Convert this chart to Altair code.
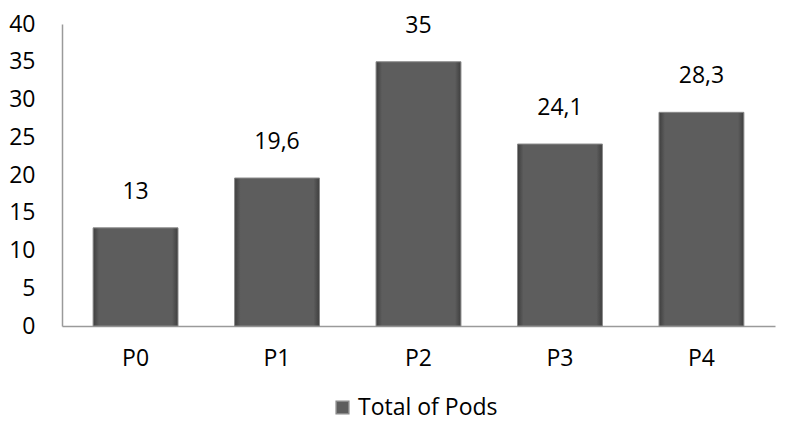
import altair as alt
import pandas as pd

categories = ["P0", "P1", "P2", "P3", "P4"]
values = [13, 19.6, 35, 24.1, 28.3]
y_ticks = [0, 5, 10, 15, 20, 25, 30, 35, 40]
series_name = "Total of Pods"

df = pd.DataFrame({"cat": categories, "value": values, "series": [series_name] * len(categories)})

FONT = "Open Sans"
FS = 23

grad = alt.Gradient(
    gradient="linear",
    x1=0, x2=1, y1=0, y2=0,
    stops=[
        alt.GradientStop(color="#3e3e3e", offset=0),
        alt.GradientStop(color="#5d5d5d", offset=0.07),
        alt.GradientStop(color="#5d5d5d", offset=0.93),
        alt.GradientStop(color="#3e3e3e", offset=1),
    ],
)

x = alt.X("cat:N", sort=categories, title=None,
          scale=alt.Scale(paddingInner=0.4, paddingOuter=0.22),
          axis=alt.Axis(labelAngle=0, ticks=False, domainColor="#9a9a9a", domainWidth=1.5,
                        labelFont=FONT, labelFontSize=FS, labelColor="#000000", labelPadding=21))
y = alt.Y("value:Q", title=None,
          scale=alt.Scale(domain=[0, 40]),
          axis=alt.Axis(values=y_ticks, grid=False, ticks=False,
                        labelOverlap=False, labelBound=False, labelFlush=False,
                        domainColor="#9a9a9a", domainWidth=1.5,
                        labelFont=FONT, labelFontSize=FS, labelColor="#000000", labelPadding=27))

base = alt.Chart(df).transform_calculate(
    lab="replace(toString(datum.value), '.', ',')"
).encode(x=x, y=y)

bars = base.mark_bar(fill=grad, strokeWidth=1).encode(
    stroke=alt.Stroke("series:N", scale=alt.Scale(range=["#8a8a8a"]),
                      legend=alt.Legend(title=None, orient="none", legendX=269, legendY=372,
                                        symbolType="square", symbolFillColor="#5d5d5d",
                                        symbolStrokeColor="#8a8a8a", symbolSize=160,
                                        labelFont=FONT, labelFontSize=FS, labelColor="#000000",
                                        labelOffset=4)),
)

labels = base.mark_text(font=FONT, fontSize=FS, color="#000000", baseline="middle", dy=-36).encode(
    text="lab:N",
)

chart = alt.layer(bars, labels).properties(
    width=713, height=302,
    autosize=alt.AutoSizeParams(type="none"),
    padding={"left": 54, "top": 16, "right": 2, "bottom": 94},
).configure_view(stroke=None)

chart.save("out.html", embed_options={"renderer": "svg", "actions": False})
